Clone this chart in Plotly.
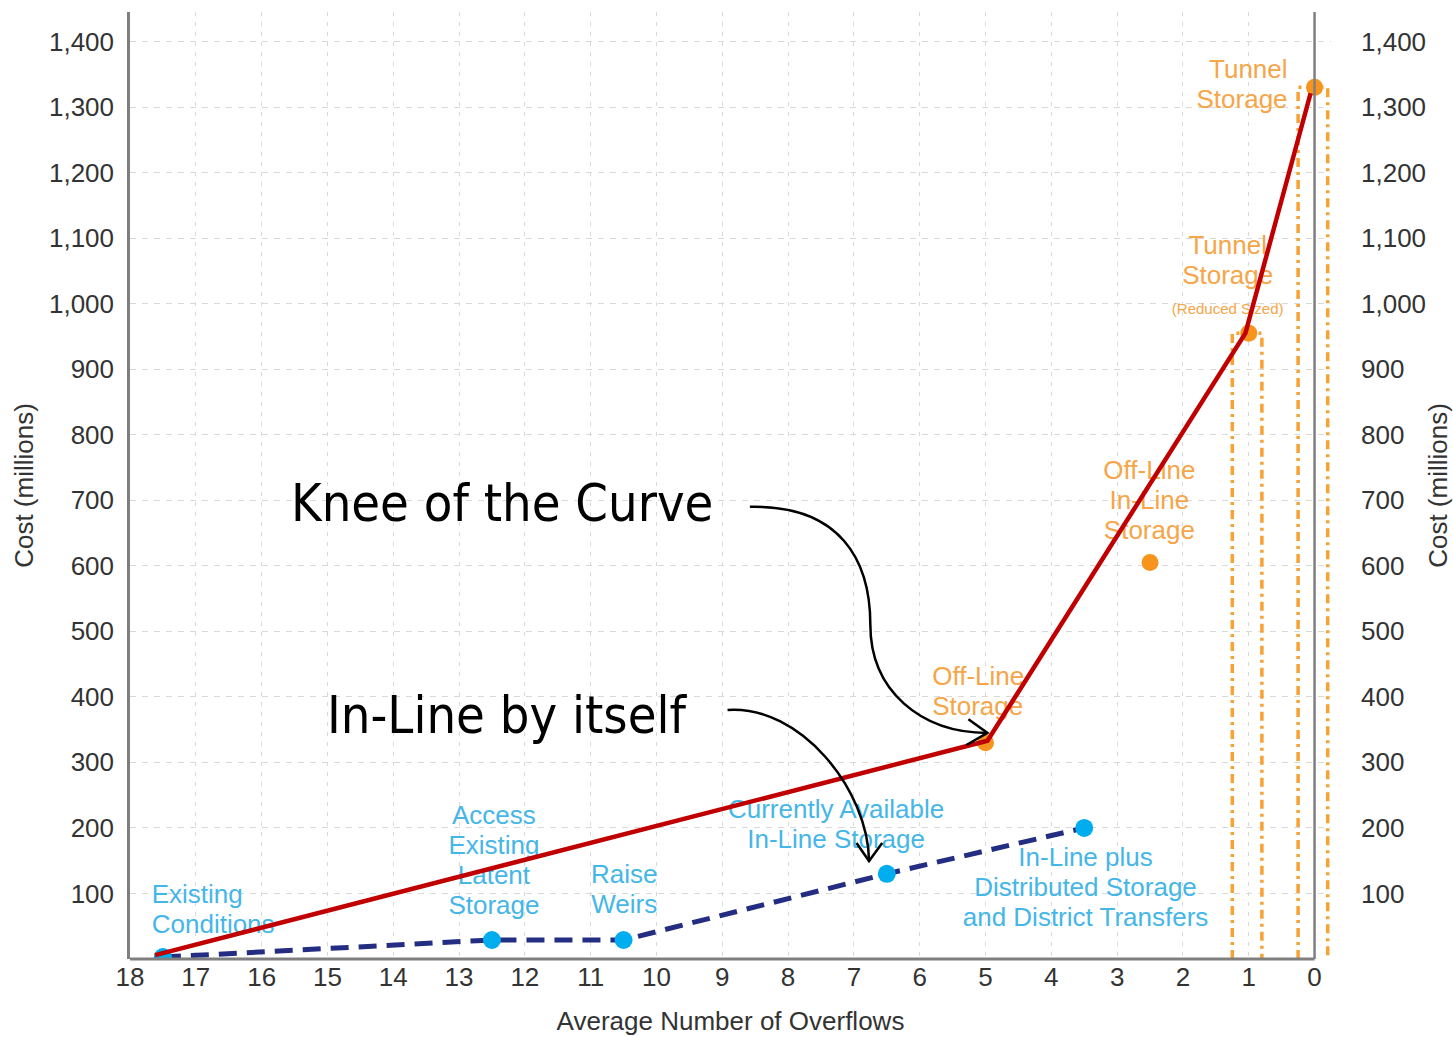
import plotly.graph_objects as go

# ---- In-line storage alternatives (blue points, dashed navy path) ----
inline_names = [
    "Existing<br>Conditions",
    "Access<br>Existing<br>Latent<br>Storage",
    "Raise<br>Weirs",
    "Currently Available<br>In-Line Storage",
    "In-Line plus<br>Distributed Storage<br>and District Transfers",
]
inline_overflows = [17.5, 12.5, 10.5, 6.5, 3.5]
inline_cost = [3, 29, 29, 130, 200]

# ---- Off-line / tunnel alternatives (orange points) ----
offline_names = [
    "Off-Line<br>Storage",
    "Off-Line<br>In-Line<br>Storage",
    "Tunnel<br>Storage<br>(Reduced Sized)",
    "Tunnel<br>Storage",
]
offline_overflows = [5, 2.5, 1, 0]
offline_cost = [330, 605, 955, 1330]

# overflow spread of the two tunnel options (upper / lower bound of overflows)
tunnel_overflow_hi = [1.25, 0.25]
tunnel_overflow_lo = [0.8, -0.2]
tunnel_cost = [955, 1330]

# ---- overall cost curve (red) ----
curve_overflows = [17.62, 4.97, 1.05, 0.06]
curve_cost = [6, 333, 955, 1321]

x_ticks = list(range(18, -1, -1))
y_ticks = list(range(100, 1500, 100))

# label anchors (data units) and text placement
inline_label_x = [17.67, 12.47, 10.49, 7.27, 3.48]
inline_label_y = [72, 146, 102, 201, 105]
inline_label_pos = ["middle right", "middle center", "middle center", "middle center", "middle center"]

offline_label_x = [5.81, 2.51, 1.32, 0.41]
offline_label_y = [404, 696, 1039, 1330]
offline_label_pos = ["middle right", "middle center", "middle center", "middle left"]

BLUE = "#00aeef"
BLUE_TXT = "#45b6e8"
NAVY = "#232d82"
ORANGE = "#f7941d"
ORANGE_TXT = "#f6a548"
RED = "#c00000"
AXIS = "#7f7f7f"
GRID = "#d9d9d9"
LABEL_FONT = "Liberation Sans, Arial, sans-serif"
NOTE_FONT = "DejaVu Sans Condensed, Noto Sans, sans-serif"

Y_MAX = 1445
X_RANGE = [18, -0.25]

# labels use a tight line pitch: the text element keeps a smaller base size
# (which sets the line spacing) while each line is rendered larger
LINE_BASE = 23
LINE_SIZE = 26
NOTE_SIZE = 15


def styled(label):
    out = []
    for part in label.split("<br>"):
        size = NOTE_SIZE if part.startswith("(") else LINE_SIZE
        out.append(f"<span style='font-size:{size}px'>{part}</span>")
    return "<br>".join(out)


fig = go.Figure()

# dash-dot brackets spanning each tunnel option's overflow range
for hi, lo, c in zip(tunnel_overflow_hi, tunnel_overflow_lo, tunnel_cost):
    fig.add_trace(go.Scatter(
        x=[hi, hi, lo, lo], y=[0, c, c, 0], mode="lines",
        line=dict(color="#f7a233", width=3.5, dash="9px,5px,3px,5px"),
        hoverinfo="skip",
    ))

# in-line alternatives
fig.add_trace(go.Scatter(
    x=inline_overflows, y=inline_cost, mode="lines",
    line=dict(color=NAVY, width=5, dash="18px,10px"),
    hoverinfo="skip",
))
fig.add_trace(go.Scatter(
    x=inline_overflows, y=inline_cost, mode="markers",
    marker=dict(color=BLUE, size=18), text=inline_names,
))

# off-line and tunnel alternatives
fig.add_trace(go.Scatter(
    x=offline_overflows, y=offline_cost, mode="markers",
    marker=dict(color=ORANGE, size=17), text=offline_names,
))

# alternative labels
fig.add_trace(go.Scatter(
    x=inline_label_x, y=inline_label_y, mode="text",
    text=[styled(t) for t in inline_names],
    textposition=inline_label_pos, cliponaxis=False,
    textfont=dict(family=LABEL_FONT, size=LINE_BASE, color=BLUE_TXT),
    hoverinfo="skip",
))
fig.add_trace(go.Scatter(
    x=offline_label_x, y=offline_label_y, mode="text",
    text=[styled(t) for t in offline_names],
    textposition=offline_label_pos, cliponaxis=False,
    textfont=dict(family=LABEL_FONT, size=LINE_BASE, color=ORANGE_TXT),
    hoverinfo="skip",
))

# cost curve on the overlaid right-hand axis, drawn above everything else
fig.add_trace(go.Scatter(
    x=curve_overflows, y=curve_cost, mode="lines", yaxis="y2",
    line=dict(color=RED, width=4.5),
    hoverinfo="skip",
))

# axis frame: bottom line and the right-hand line at zero overflows
shapes = [
    dict(type="line", xref="x", yref="paper", x0=18, x1=0, y0=0, y1=0,
         line=dict(color=AXIS, width=3)),
    dict(type="line", xref="x", yref="paper", x0=0, x1=0, y0=0, y1=1,
         line=dict(color=AXIS, width=2.5)),
]

# curved callout arrows
ARROW = dict(color="black", width=2.5)
shapes += [
    dict(type="path", xref="x", yref="y", line=ARROW,
         path="M 8.58,690 C 7.21,693 6.75,609 6.75,510 C 6.75,410 5.99,345 4.97,345"),
    dict(type="path", xref="x", yref="y", line=ARROW,
         path="M 5.26,366 L 4.97,345 L 5.29,326.5"),
    dict(type="path", xref="x", yref="y", line=ARROW,
         path="M 8.92,380 C 7.81,387.6 6.78,257.9 6.77,149.5"),
    dict(type="path", xref="x", yref="y", line=ARROW,
         path="M 6.96,177 L 6.77,149.5 L 6.57,177"),
]

annotations = [
    dict(x=12.34, y=696, xref="x", yref="y", text="Knee of the Curve",
         showarrow=False, font=dict(family=NOTE_FONT, size=52, color="black")),
    dict(x=12.27, y=372, xref="x", yref="y", text="In-Line by itself",
         showarrow=False, font=dict(family=NOTE_FONT, size=52, color="black")),
]

tick_font = dict(family=LABEL_FONT, size=26, color="#333333")
title_font = dict(family=LABEL_FONT, size=26, color="#333333")

fig.update_layout(
    width=1453, height=1037,
    margin=dict(l=130, r=122, t=12, b=78),
    plot_bgcolor="white", paper_bgcolor="white",
    showlegend=False,
    font=dict(family=LABEL_FONT, size=24, color="#333333"),
    shapes=shapes,
    annotations=annotations,
    xaxis=dict(
        range=X_RANGE, tickvals=x_ticks, ticks="", tickfont=tick_font,
        showgrid=True, gridcolor=GRID, gridwidth=1, griddash="4px,6px",
        zeroline=False, showline=False, automargin=False,
        title=dict(text="Average Number of Overflows", font=title_font, standoff=20),
    ),
    yaxis=dict(
        range=[0, Y_MAX], tickvals=y_ticks, tickformat=",d", ticks="",
        tickfont=tick_font, ticklabelstandoff=8, automargin=False,
        showgrid=True, gridcolor=GRID, gridwidth=1, griddash="6px,6px",
        zeroline=False, showline=True, linecolor=AXIS, linewidth=2.5,
        title=dict(text="Cost (millions)", font=title_font, standoff=8),
    ),
    yaxis2=dict(
        overlaying="y", side="right", range=[0, Y_MAX], tickvals=y_ticks,
        tickformat=",d", ticks="", tickfont=tick_font, ticklabelstandoff=29,
        showgrid=False, zeroline=False, showline=False, automargin=False,
        title=dict(text="Cost (millions)", font=title_font, standoff=6),
    ),
)

fig.write_html("out.html")
